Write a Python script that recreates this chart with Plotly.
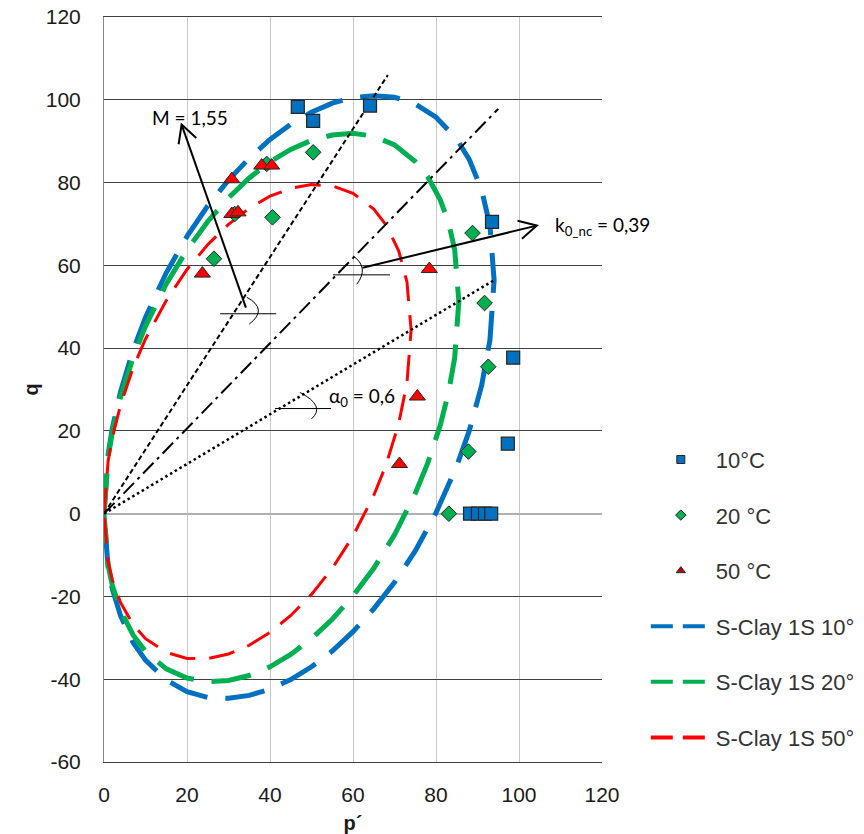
import math
import plotly.graph_objects as go

# ---------------- data ----------------
x_ticks = [0, 20, 40, 60, 80, 100, 120]
y_ticks = [-60, -40, -20, 0, 20, 40, 60, 80, 100, 120]

# measured points
p_10 = [46.7, 50.4, 64.1, 93.5, 98.6, 97.3, 88.2, 90.1, 91.8, 93.3]
q_10 = [98.3, 94.9, 98.6, 70.5, 37.7, 16.9, 0, 0, 0, 0]

p_20 = [26.5, 31.5, 39.2, 40.6, 50.4, 88.8, 91.7, 92.6, 87.8, 83.1]
q_20 = [61.6, 72.4, 84.5, 71.6, 87.3, 67.8, 50.9, 35.5, 15.0, 0]

p_50 = [23.7, 30.8, 32.3, 30.8, 38.0, 40.4, 78.4, 75.5, 71.2]
q_50 = [58.0, 72.4, 72.8, 80.8, 84.1, 84.1, 59.1, 28.3, 12.0]

# model curves (S-Clay 1S)
p_sc10 = [0, 1, 2, 4, 7, 10, 15, 20, 25, 30, 35, 40, 45, 50, 55, 60, 65, 70, 75, 80, 85, 88, 91, 93, 94,
          93, 91, 88, 85, 80, 75, 70, 65, 60, 55, 50, 45, 40, 35, 30, 25, 20, 15, 10, 7, 4, 2, 1, 0]
q_sc10 = [0, 14.4, 20.6, 29.5, 39.5, 47.4, 58.2, 67.0, 74.4, 80.6, 85.9, 90.4, 94.1, 97.0, 99.2, 100.5, 101.0,
          100.6, 99.0, 95.8, 90.5, 85.6, 78.2, 69.6, 56.4,
          42.0, 31.0, 20.0, 11.5, 0.2, -9.0, -16.6, -23.0, -28.5, -33.2, -37.0, -40.1, -42.4, -43.9, -44.6,
          -44.4, -43.0, -40.2, -35.4, -31.1, -24.7, -18.2, -13.2, 0]

p_sc20 = [0, 1, 2, 4, 7, 10, 15, 20, 25, 30, 35, 40, 45, 50, 55, 60, 65, 70, 75, 78, 81, 83, 84.5, 85.5,
          84.5, 83, 81, 78, 75, 70, 65, 60, 55, 50, 45, 40, 35, 30, 25, 20, 15, 10, 7, 4, 2, 1, 0]
q_sc20 = [0, 13.7, 19.7, 28.2, 37.7, 45.3, 55.5, 63.7, 70.6, 76.3, 81.1, 85.0, 88.0, 90.2, 91.5, 91.9, 91.2,
          89.1, 85.1, 81.4, 75.9, 70.4, 63.8, 51.3,
          37.6, 29.2, 21.3, 12.2, 4.9, -5.1, -13.2, -19.9, -25.5, -30.2, -34.0, -37.0, -39.1, -40.3, -40.6,
          -39.7, -37.5, -33.3, -29.3, -23.4, -17.3, -12.5, 0]

p_sc50 = [0, 1, 2, 4, 7, 10, 15, 20, 25, 30, 35, 40, 45, 50, 55, 60, 65, 68, 71, 73, 74,
          73, 71, 68, 65, 60, 55, 50, 45, 40, 35, 30, 25, 20, 15, 10, 7, 4, 2, 1, 0]
q_sc50 = [0, 12.8, 18.4, 26.3, 35.2, 42.2, 51.5, 59.0, 65.0, 69.9, 73.8, 76.7, 78.6, 79.5, 79.2, 77.4, 73.6,
          69.7, 63.5, 56.0, 44.4,
          31.6, 21.7, 11.9, 4.4, -5.4, -13.2, -19.5, -24.6, -28.7, -31.8, -33.9, -35.0, -35.0, -33.5, -30.2,
          -26.8, -21.5, -16.0, -11.6, 0]

# reference lines from origin
p_M = [0, 68.4]
q_M = [0, 106.0]
p_K0 = [0, 95.0]
q_K0 = [0, 97.8]
p_A0 = [0, 93.8]
q_A0 = [0, 56.3]

labels_pts = ["10°C", "20 °C", "50 °C"]
labels_curves = ["S-Clay 1S 10°", "S-Clay 1S 20°", "S-Clay 1S 50°"]

BLUE = "#0070C0"
GREEN = "#00B050"
RED = "#FF0000"
EDGE = "#262626"

fig = go.Figure()

# curves
for px_, qy_, col, w, dash in [
    (p_sc10, q_sc10, BLUE, 5, "40px,18px"),
    (p_sc20, q_sc20, GREEN, 5, "40px,18px"),
    (p_sc50, q_sc50, RED, 3, "26px,14px"),
]:
    fig.add_trace(go.Scatter(x=px_, y=qy_, mode="lines", showlegend=False, hoverinfo="skip",
                             line=dict(color=col, width=w, dash=dash, shape="linear")))

# reference lines
fig.add_trace(go.Scatter(x=p_M, y=q_M, mode="lines", showlegend=False,
                         line=dict(color="black", width=2, dash="5px,3px")))
fig.add_trace(go.Scatter(x=p_K0, y=q_K0, mode="lines", showlegend=False,
                         line=dict(color="black", width=2, dash="15px,5px,3px,5px")))
fig.add_trace(go.Scatter(x=p_A0, y=q_A0, mode="lines", showlegend=False,
                         line=dict(color="black", width=2.5, dash="2.5px,3px")))

# measured points
fig.add_trace(go.Scatter(x=p_10, y=q_10, mode="markers", showlegend=False,
                         marker=dict(symbol="square", size=13, color=BLUE, line=dict(color=EDGE, width=1.2))))
fig.add_trace(go.Scatter(x=p_20, y=q_20, mode="markers", showlegend=False,
                         marker=dict(symbol="diamond", size=12, color=GREEN, line=dict(color=EDGE, width=1))))
fig.add_trace(go.Scatter(x=p_50, y=q_50, mode="markers", showlegend=False,
                         marker=dict(symbol="triangle-up", size=14, color=RED, line=dict(color=EDGE, width=1))))

# legend entries
leg_markers = [("square", BLUE), ("diamond", GREEN), ("triangle-up", "#C00000")]
for i, (lab, (sym, col)) in enumerate(zip(labels_pts, leg_markers)):
    fig.add_trace(go.Scatter(x=[None], y=[None], mode="markers", name=lab, legendgroup=f"g{i}",
                             marker=dict(symbol=sym, size=8, color=col, line=dict(color=EDGE, width=1))))
for i, (lab, col) in enumerate(zip(labels_curves, [BLUE, GREEN, RED])):
    fig.add_trace(go.Scatter(x=[None], y=[None], mode="lines", name=lab, legendgroup=f"h{i}",
                             line=dict(color=col, width=4, dash="22px,10px")))


# arrows & decorations
def add_arrow(x0, y0, x1, y1, head=4.8, ang=28):
    fig.add_shape(type="line", x0=x0, y0=y0, x1=x1, y1=y1, xref="x", yref="y",
                  line=dict(color="black", width=2))
    L = math.hypot(x1 - x0, y1 - y0)
    bx, by = -(x1 - x0) / L, -(y1 - y0) / L
    a = math.radians(ang)
    pts = []
    for s in (1, -1):
        rx = bx * math.cos(a) - s * by * math.sin(a)
        ry = s * bx * math.sin(a) + by * math.cos(a)
        pts.append((x1 + head * rx, y1 + head * ry))
    path = f"M{pts[0][0]},{pts[0][1]} L{x1},{y1} L{pts[1][0]},{pts[1][1]}"
    fig.add_shape(type="path", path=path, xref="x", yref="y", line=dict(color="black", width=2))


add_arrow(34.2, 49.8, 18.7, 94.0)
add_arrow(62.3, 59.4, 104.3, 69.6)

for (xa, xb, yy) in [(28.0, 41.5, 48.3), (55.2, 68.9, 57.7), (41.2, 54.7, 25.4)]:
    fig.add_shape(type="line", x0=xa, x1=xb, y0=yy, y1=yy, xref="x", yref="y",
                  line=dict(color="black", width=1))

for (P0, C, P2) in [((34.4, 52.3), (39.7, 49.4), (35.0, 45.8)),
                    ((60.0, 62.3), (64.0, 59.5), (60.9, 55.4)),
                    ((47.2, 29.3), (53.5, 26.0), (50.0, 22.9))]:
    fig.add_shape(type="path", xref="x", yref="y",
                  path=f"M{P0[0]},{P0[1]} Q{C[0]},{C[1]} {P2[0]},{P2[1]}",
                  line=dict(color="black", width=1))

ann_font = dict(family="Lato, Liberation Sans, sans-serif", size=19, color="black")
fig.add_annotation(x=11.1, y=95.7, text="M = 1,55", showarrow=False, xanchor="left", yanchor="middle",
                   font=ann_font)
fig.add_annotation(x=108.2, y=69.6, text="k<sub>0_nc</sub> = 0,39", showarrow=False, xanchor="left",
                   yanchor="middle", font=ann_font)
fig.add_annotation(x=53.7, y=28.3, text="α<sub>0</sub> = 0,6", showarrow=False, xanchor="left",
                   yanchor="middle", font=ann_font)

fig.update_layout(
    template="none",
    width=864, height=834,
    margin=dict(l=104, r=262, t=17, b=72, autoexpand=False),
    paper_bgcolor="white", plot_bgcolor="white",
    font=dict(family="Liberation Sans, Arial, sans-serif", color="#1a1a1a"),
    legend=dict(x=1.088, y=0.434, xanchor="left", yanchor="top",
                font=dict(family="Liberation Sans, Arial, sans-serif", size=22, color="#333333"),
                tracegroupgap=24, itemwidth=60, bgcolor="rgba(0,0,0,0)", borderwidth=0),
    xaxis=dict(range=[0, 120], tickvals=x_ticks, ticktext=[str(v) for v in x_ticks],
               automargin=False,
               showgrid=True, gridcolor="#C8C8C8", gridwidth=1, zeroline=False,
               showline=True, linecolor="#404040", linewidth=1, mirror=True,
               ticks="", tickfont=dict(size=21), ticklabelstandoff=14,
               title=dict(text="<b>p´</b>", font=dict(size=20), standoff=14)),
    yaxis=dict(range=[-60, 120], tickvals=y_ticks, ticktext=[str(v) for v in y_ticks],
               automargin=False,
               showgrid=True, gridcolor="#404040", gridwidth=1,
               zeroline=True, zerolinecolor="#B0B0B0", zerolinewidth=1.5,
               showline=True, linecolor="#888888", linewidth=1,
               ticks="", tickfont=dict(size=21), ticklabelstandoff=18,
               title=dict(text="<b>q</b>", font=dict(size=20), standoff=1)),
)

fig.write_html("out.html", config={"displayModeBar": False},
               post_script="document.body.style.margin='0';")
